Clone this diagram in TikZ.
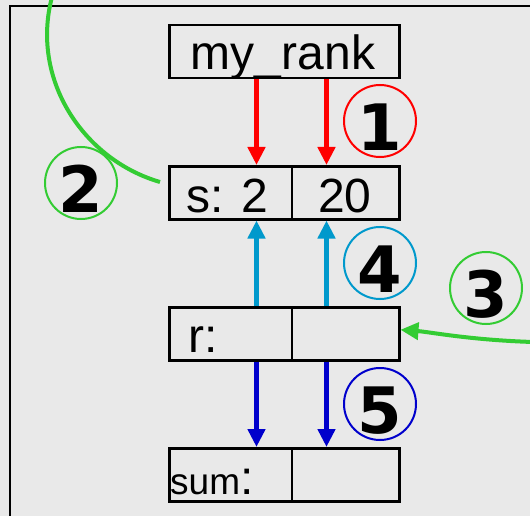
\documentclass[tikz,border=0pt]{standalone}
\usepackage{fontspec}
\setmainfont{Liberation Sans}
\newfontfamily\numfont{DejaVu Sans}
\usetikzlibrary{arrows.meta}
\definecolor{bg}{RGB}{233,233,233}
\definecolor{redA}{RGB}{255,0,0}
\definecolor{cyanA}{RGB}{0,153,204}
\definecolor{blueA}{RGB}{0,0,204}
\definecolor{greenA}{RGB}{51,204,51}
\begin{document}
\begin{tikzpicture}[x=1pt,y=-1pt,
  box/.style={draw=black, line width=2.5pt, minimum width=230pt, minimum height=53pt, inner sep=0pt, anchor=north west},
  lbl/.style={inner sep=0pt, anchor=base, font=\fontsize{48}{48}\selectfont},
  num/.style={inner sep=0pt, anchor=base, font=\numfont\bfseries\fontsize{64}{64}\selectfont},
  ring/.style={circle, minimum size=72pt, inner sep=0pt, line width=2pt},
  arr/.style={line width=4.5pt, -{Triangle[length=18pt,width=17pt]}},
  garr/.style={line width=4pt, greenA},
]
\useasboundingbox (0,0) rectangle (530,516);
\clip (0,0) rectangle (530,516);
\fill[bg] (0,0) rectangle (530,516);
\draw[line width=2pt] (10,6) rectangle (560,560);

% boxes
\node[box] (mr) at (168,24) {};
\node[box] (s) at (168,165) {};
\node[box] (r) at (168,306) {};
\node[box] (sm) at (168,447) {};
\coordinate (dv) at (292,0);
\coordinate (ax1) at (256.5,0);
\coordinate (ax2) at (326.5,0);
\foreach \b in {s,r,sm}{
  \draw[line width=2.5pt] (\b.north -| dv) -- (\b.south -| dv);
}

% texts
\node[lbl] (t0) at (283,70) {my\_rank};
\node[lbl] (t1) at (227,212) {s: 2};
\node[lbl] (t2) at (345,212) {20};
\node[lbl, anchor=base west] (t3) at (188,352) {r:};
\node[lbl, anchor=base west] (t4) at (170,494) {{\fontsize{37}{37}\selectfont sum}:};

% arrows
\foreach \a in {ax1,ax2}{
  \draw[arr, redA] (mr.south -| \a) -- (s.north -| \a);
  \draw[arr, cyanA] (r.north -| \a) -- (s.south -| \a);
  \draw[arr, blueA] (r.south -| \a) -- (sm.north -| \a);
}

% circles
\node[ring, draw=redA] (c1) at (380,121) {};
\node[num] (n1) at (380,150) {1};
\node[ring, draw=greenA] (c2) at (81,183) {};
\node[num] (n2) at (81,212) {2};
\node[ring, draw=greenA] (c3) at (486,288) {};
\node[num] (n3) at (486,317) {3};
\node[ring, draw=cyanA] (c4) at (380,263) {};
\node[num] (n4) at (380,292) {4};
\node[ring, draw=blueA] (c5) at (380,404) {};
\node[num] (n5) at (380,433) {5};

% green curves
\coordinate (g2s) at (52,-3);
\coordinate (g2e) at (160,182);
\draw[garr] (g2s) .. controls (30,80) and (84,160) .. (g2e);
\coordinate (g3s) at (533,342);
\draw[garr, -{Triangle[length=18pt,width=17pt]}] (g3s) .. controls (470,340) and (430,332) .. ([yshift=4pt]r.east);
\end{tikzpicture}
\end{document}
